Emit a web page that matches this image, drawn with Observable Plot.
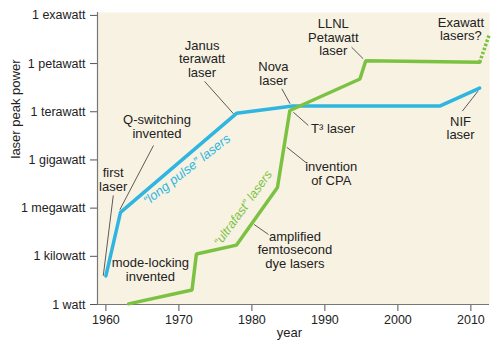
<!DOCTYPE html>
<html>
<head>
<meta charset="utf-8">
<script src="https://cdn.jsdelivr.net/npm/d3@7"></script>
<script src="https://cdn.jsdelivr.net/npm/@observablehq/plot@0.6"></script>
<style>
  html, body { margin: 0; padding: 0; background: #ffffff; }
  #chart svg { display: block; }
</style>
</head>
<body>
<div id="chart"></div>
<script>
// ---- data (year, peak power in watts) ----
const longPulseYears = [1960, 1962, 1977.9, 1985.6, 2005.8, 2011.2];
const longPulseWatts = [60, 5.4e5, 8e11, 2.3e12, 2.3e12, 3e13];

const ultrafastYears = [1963.1, 1971.8, 1972.4, 1977.9, 1983.5, 1985.2, 1994.8, 1995.6, 2011.2];
const ultrafastWatts = [1.1, 8, 1.4e3, 5e3, 1.9e7, 1.2e12, 1.1e14, 1.5e15, 1.2e15];

const futureYears = [2011.2, 2012.5];
const futureWatts = [1.2e15, 6e16];

const yTickValues = [1, 1e3, 1e6, 1e9, 1e12, 1e15, 1e18];
const yTickLabels = ["1 watt", "1 kilowatt", "1 megawatt", "1 gigawatt", "1 terawatt", "1 petawatt", "1 exawatt"];
const xTickValues = [1960, 1970, 1980, 1990, 2000, 2010];

// annotation texts
const noteTexts = ["first\nlaser", "Q-switching\ninvented", "Janus\nterawatt\nlaser", "Nova\nlaser",
  "LLNL\nPetawatt\nlaser", "Exawatt\nlasers?", "NIF\nlaser", "invention\nof CPA",
  "amplified\nfemtosecond\ndye lasers", "mode-locking\ninvented"];
const noteT3 = "T³ laser";
const seriesLabels = ["\u201clong pulse\u201d lasers", "\u201cultrafast\u201d lasers"];

// ---- layout (annotation anchors in data space) ----
const notes = noteTexts.map((t, i) => ({
  text: t,
  x: [1961.0, 1967.0, 1973.17, 1982.95, 1991.15, 2008.63, 2008.59, 1990.87, 1985.9, 1966.1][i],
  y: Math.pow(10, [7.76, 11.08, 15.3, 14.37, 16.63, 17.14, 10.98, 8.13, 3.39, 2.18][i])
}));
const leaders = [
  [1961.01, 6.79, 1959.64, 1.79],
  [1966.52, 9.9, 1961.91, 5.9],
  [1973.52, 13.89, 1977.49, 11.87],
  [1984.1, 13.43, 1985.23, 12.5],
  [1993.66, 16.02, 1995.25, 15.3],
  [2008.83, 12.04, 2010.96, 13.28],
  [1985.68, 11.97, 1987.73, 11.15],
  [1984.78, 9.79, 1987.51, 8.8],
  [1980.31, 4.98, 1982.27, 4.36]
].map(([x1, e1, x2, e2]) => ({x1, y1: Math.pow(10, e1), x2, y2: Math.pow(10, e2)}));

const longPulse = longPulseYears.map((x, i) => ({x, y: longPulseWatts[i]}));
const ultrafast = ultrafastYears.map((x, i) => ({x, y: ultrafastWatts[i]}));
const future = futureYears.map((x, i) => ({x, y: futureWatts[i]}));

const BLUE = "#2fb6e0";
const GREEN = "#7cc242";
const TEXT = "#222222";
const FONT = "'Liberation Sans', Arial, Helvetica, sans-serif";
const NOTE_SIZE = 13;

const chart = Plot.plot({
  width: 500,
  height: 352,
  marginLeft: 97,
  marginRight: 11,
  marginTop: 12,
  marginBottom: 48,
  style: {fontFamily: FONT, fontSize: "13px", color: TEXT, background: "#ffffff"},
  x: {domain: [1958.85, 2012.55]},
  y: {type: "log", domain: [1, Math.pow(10, 18.18)]},
  marks: [
    Plot.frame({fill: "#f8f2e2", stroke: "none"}),
    Plot.axisY({ticks: yTickValues, tickFormat: d => yTickLabels[yTickValues.indexOf(d)],
      tickSize: 7, tickPadding: 5, stroke: "#555", label: null, fontSize: 12.5, fill: TEXT}),
    Plot.axisX({ticks: xTickValues, tickFormat: d => String(d), tickSize: 7, tickPadding: 4,
      stroke: "#555", label: null, fontSize: 12.5, fill: TEXT}),
    Plot.ruleX([1958.85], {stroke: "#777", strokeWidth: 1.2}),
    Plot.ruleY([1], {stroke: "#777", strokeWidth: 1.2}),
    Plot.text(["laser peak power"], {frameAnchor: "left", dx: -82, rotate: -90, fontSize: NOTE_SIZE, fill: TEXT}),
    Plot.text(["year"], {frameAnchor: "bottom", dx: -4, dy: 32, fontSize: NOTE_SIZE, fill: TEXT}),
    Plot.link(leaders, {x1: "x1", y1: "y1", x2: "x2", y2: "y2", stroke: "#333", strokeWidth: 0.8}),
    Plot.line(longPulse, {x: "x", y: "y", stroke: BLUE, strokeWidth: 3.5, strokeLinejoin: "miter"}),
    Plot.line(ultrafast, {x: "x", y: "y", stroke: GREEN, strokeWidth: 3.5, strokeLinejoin: "miter"}),
    Plot.line(future, {x: "x", y: "y", stroke: GREEN, strokeWidth: 3.5, strokeDasharray: "2.5,1.8",
      strokeLinecap: "butt"}),
    Plot.text(notes, {x: "x", y: "y", text: "text", fontSize: NOTE_SIZE, lineHeight: 1.04, fill: TEXT}),
    Plot.text([noteT3], {x: [1988.1], y: [Math.pow(10, 10.92)], textAnchor: "start", fontSize: NOTE_SIZE, fill: TEXT}),
    Plot.text([seriesLabels[0]], {x: [1971.1], y: [Math.pow(10, 8.4)], rotate: -38, fontSize: 13,
      fontStyle: "italic", fill: BLUE}),
    Plot.text([seriesLabels[1]], {x: [1978.8], y: [Math.pow(10, 6.0)], rotate: -54, fontSize: 12.5,
      fontStyle: "italic", fill: GREEN})
  ]
});
document.getElementById("chart").appendChild(chart);
</script>
</body>
</html>
